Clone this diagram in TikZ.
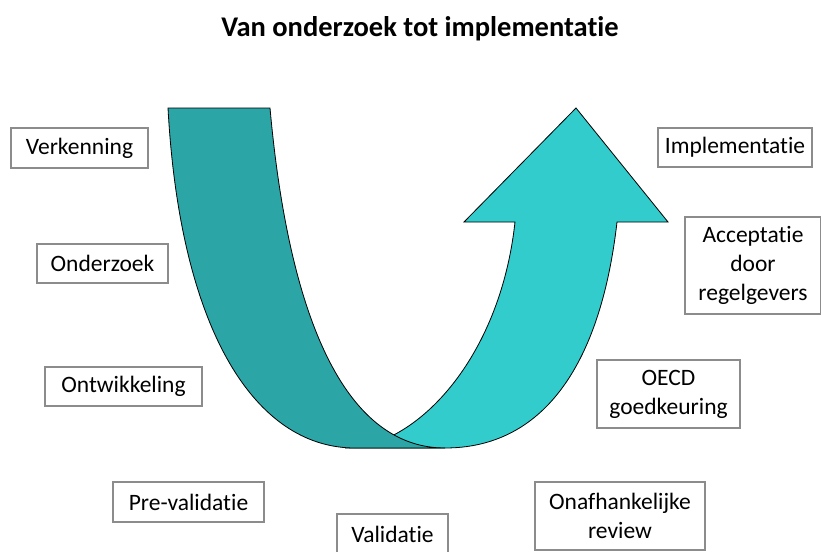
\documentclass[tikz,border=0pt]{standalone}
\usepackage{fontspec}
\setmainfont{Carlito}[Ligatures={NoCommon,NoContextual,NoRare},Contextuals=NoAlternate]
\definecolor{darkteal}{HTML}{2BA5A5}
\definecolor{lightteal}{HTML}{33CCCC}
\definecolor{boxgray}{HTML}{8C8C8C}
\begin{document}
\begin{tikzpicture}[x=1pt,y=-1pt,
  stagebox/.style={draw=boxgray, line width=1.4pt, fill=white, align=center,
    inner sep=0pt, font=\fontsize{23.5}{29}\selectfont},
  band/.style={draw=black, line width=0.8pt, line join=miter}]
\clip (0,0) rectangle (821,551);
\fill[white] (0,0) rectangle (821,551);
\node[font=\bfseries\fontsize{28.5}{34}\selectfont, anchor=base] (title) at (420,37) {Van onderzoek tot implementatie};
% light arrow (underneath)
\draw[band, fill=lightteal] (345,448) .. controls (415,448) and (500,360) .. (515,222)
  -- (464,222) -- (576,108) -- (668,222) -- (617,222)
  .. controls (600,370) and (540,448) .. (445,448) -- cycle;
% dark band (on top)
\draw[band, fill=darkteal] (168,108) -- (270,108) .. controls (290,330) and (350,448) .. (445,448)
  -- (355,448) .. controls (255,448) and (180,330) .. (168,108) -- cycle;
% boxes
\node[stagebox, minimum width=137pt, minimum height=40pt] (verk) at (79.5,148) {Verkenning};
\node[stagebox, minimum width=131pt, minimum height=39pt] (onderz) at (102.5,263.5) {Onderzoek};
\node[stagebox, minimum width=157pt, minimum height=39pt] (ontw) at (123.5,386.5) {Ontwikkeling};
\node[stagebox, minimum width=151pt, minimum height=40pt] (prev) at (188.5,502) {Pre-validatie};
\node[stagebox, minimum width=111pt, minimum height=40pt] (valid) at (392.5,534) {Validatie};
\node[stagebox, minimum width=170pt, minimum height=68pt] (review) at (620,516) {Onafhankelijke\\review};
\node[stagebox, minimum width=143pt, minimum height=68pt] (oecd) at (668.5,394) {OECD\\goedkeuring};
\node[stagebox, minimum width=136pt, minimum height=97pt] (accept) at (753,265.5) {Acceptatie\\door\\regelgevers};
\node[stagebox, minimum width=154pt, minimum height=39pt] (impl) at (735,147.5) {Implementatie};
\end{tikzpicture}
\end{document}
